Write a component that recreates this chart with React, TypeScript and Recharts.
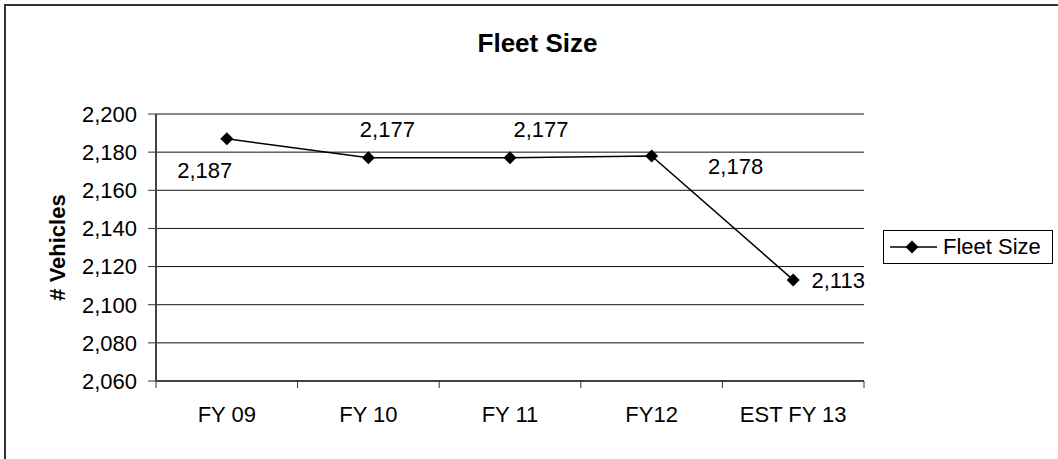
import { LineChart, Line, XAxis, YAxis, CartesianGrid, Legend } from 'recharts'

const categories = ['FY 09', 'FY 10', 'FY 11', 'FY12', 'EST FY 13']
const fleetSize = [2187, 2177, 2177, 2178, 2113]
const yTicks = [2060, 2080, 2100, 2120, 2140, 2160, 2180, 2200]

const data = categories.map((label, i) => ({ label, fleet: fleetSize[i] }))

// where Excel dropped each data label, relative to its point
const LABEL_OFFSETS = [
  [-22, 32],
  [19, -28],
  [31, -28],
  [84, 11],
  [45, 1]
]

const FONT = '"Liberation Sans", Arial, sans-serif'
const fmt = (v: number) => v.toLocaleString('en-US')

const diamond = (cx: number, cy: number, r = 6.5) =>
  `${cx},${cy - r} ${cx + r},${cy} ${cx},${cy + r} ${cx - r},${cy}`

const XTick = (props: any) => {
  const { x, y, payload, index, visibleTicksCount, width } = props
  const half = payload?.offset || width / visibleTicksCount / 2
  return (
    <g>
      <line x1={x - half} y1={y} x2={x - half} y2={y + 7} stroke="#333" />
      {index === visibleTicksCount - 1 && (
        <line x1={x + half} y1={y} x2={x + half} y2={y + 7} stroke="#333" />
      )}
      <text
        x={x}
        y={y + 33}
        textAnchor="middle"
        dominantBaseline="central"
        fontSize={22}
        fontFamily={FONT}
        fill="#000"
      >
        {payload.value}
      </text>
    </g>
  )
}

const PointLabel = (props: any) => {
  const { x, y, value, index } = props
  const [dx, dy] = LABEL_OFFSETS[index] ?? [0, 0]
  return (
    <text
      x={x + dx}
      y={y + dy}
      textAnchor="middle"
      dominantBaseline="central"
      fontSize={22}
      fontFamily={FONT}
      fill="#000"
    >
      {fmt(value)}
    </text>
  )
}

const LegendBox = () => (
  <div
    style={{
      boxSizing: 'border-box',
      width: 170,
      height: 34,
      border: '1px solid #000',
      background: '#fff',
      display: 'flex',
      alignItems: 'center',
      paddingLeft: 6,
      fontFamily: FONT,
      fontSize: 22,
      color: '#000'
    }}
  >
    <svg width={48} height={14}>
      <line x1={0} y1={7} x2={47} y2={7} stroke="#000" strokeWidth={1.5} />
      <polygon points={diamond(22, 7)} fill="#000" />
    </svg>
    <span style={{ marginLeft: 5 }}>Fleet Size</span>
  </div>
)

export default function App() {
  return (
    <div
      style={{
        position: 'absolute',
        left: 0,
        top: 0,
        width: 1058,
        height: 459,
        overflow: 'hidden',
        background: '#fff'
      }}
    >
      <div
        style={{
          position: 'absolute',
          left: 4,
          top: 4,
          width: 1070,
          height: 470,
          borderLeft: '2px solid #333',
          borderTop: '2px solid #333'
        }}
      />
      <div
        style={{
          position: 'absolute',
          left: 437,
          top: 30,
          width: 201,
          textAlign: 'center',
          fontFamily: FONT,
          fontWeight: 'bold',
          fontSize: 26,
          lineHeight: '26px',
          color: '#000'
        }}
      >
        Fleet Size
      </div>
      <div style={{ position: 'absolute', left: 0, top: 0 }}>
        <LineChart
          width={1058}
          height={459}
          data={data}
          margin={{ top: 114, right: 194, bottom: 0, left: 0 }}
        >
          <CartesianGrid vertical={false} stroke="#111" strokeWidth={1} />
          <XAxis
            dataKey="label"
            scale="band"
            height={78}
            tickSize={0}
            tickMargin={0}
            tickLine={false}
            axisLine={{ stroke: '#444', strokeWidth: 2 }}
            tick={<XTick />}
            interval={0}
          />
          <XAxis
            xAxisId="top"
            orientation="top"
            dataKey="label"
            scale="band"
            height={0}
            tick={false}
            tickLine={false}
            axisLine={{ stroke: '#999', strokeWidth: 2 }}
          />
          <YAxis
            width={156}
            domain={[2060, 2200]}
            ticks={yTicks}
            interval={0}
            tickFormatter={fmt}
            tickSize={8}
            tickMargin={11}
            tickLine={{ stroke: '#333' }}
            axisLine={{ stroke: '#444', strokeWidth: 2 }}
            tick={{ fill: '#000', fontSize: 22, fontFamily: FONT }}
            label={(p: any) => {
              const vb = p.viewBox
              const cx = vb.x + 57
              const cy = vb.y + vb.height / 2
              return (
                <text
                  x={cx}
                  y={cy}
                  transform={`rotate(-90 ${cx} ${cy})`}
                  textAnchor="middle"
                  dominantBaseline="central"
                  fontSize={22}
                  fontWeight="bold"
                  fontFamily={FONT}
                  fill="#000"
                >
                  # Vehicles
                </text>
              )
            }}
          />
          <YAxis
            yAxisId="right"
            orientation="right"
            width={0}
            domain={[2060, 2200]}
            tick={false}
            tickLine={false}
            axisLine={{ stroke: '#999', strokeWidth: 2 }}
          />
          <Legend
            layout="horizontal"
            verticalAlign="middle"
            align="center"
            content={<LegendBox />}
            wrapperStyle={{ left: 883, top: 230, width: 170, height: 34 }}
          />
          <Line
            type="linear"
            dataKey="fleet"
            name="Fleet Size"
            stroke="#000"
            strokeWidth={1.5}
            isAnimationActive={false}
            dot={(p: any) => <polygon key={p.index} points={diamond(p.cx, p.cy)} fill="#000" />}
            activeDot={false}
            label={<PointLabel />}
          />
        </LineChart>
      </div>
    </div>
  )
}
